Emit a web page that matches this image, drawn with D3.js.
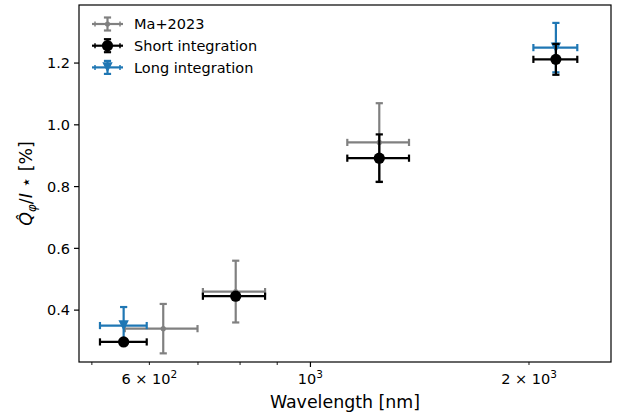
<!DOCTYPE html>
<html>
<head>
<meta charset="utf-8">
<script src="https://cdn.jsdelivr.net/npm/d3@7"></script>
<style>
  body { margin: 0; background: #fff; }
  text { font-family: "DejaVu Sans", sans-serif; fill: #000; }
</style>
</head>
<body>
<div id="chart"></div>
<script>
// Ma+2023
var maWave = [627, 789, 1244];
var maLow = [555, 711, 1124];
var maHigh = [699, 866, 1367];
var maVal = [0.34, 0.46, 0.943];
var maErr = [0.08, 0.1, 0.127];

// Short integration
var shortWave = [553, 789, 1244, 2178];
var shortLow = [513, 711, 1124, 2028];
var shortHigh = [595, 866, 1367, 2331];
var shortVal = [0.297, 0.445, 0.892, 1.212];
var shortErr = [0.006, 0.005, 0.077, 0.05];

// Long integration
var longWave = [553, 2178];
var longLow = [513, 2028];
var longHigh = [595, 2331];
var longVal = [0.35, 1.25];
var longErr = [0.06, 0.08];

var yTicks = [0.4, 0.6, 0.8, 1.0, 1.2];
var xMinorTicks = [500, 600, 700, 800, 900, 2000];
var xMajorTicks = [1000];
var xTickLabels = [
  { v: 600, base: "6 \u00d7 10", exp: "2" },
  { v: 1000, base: "10", exp: "3" },
  { v: 2000, base: "2 \u00d7 10", exp: "3" }
];

var W = 618, H = 416;
var pL = 79, pR = 611, pT = 5, pB = 362;

var svg = d3.select("#chart").append("svg")
  .attr("width", W).attr("height", H);

var x = d3.scaleLog().domain([480, 2594]).range([pL, pR]);
var y = d3.scaleLinear().domain([0.232, 1.388]).range([pB, pT]);

// axes
var xAxis = svg.append("g").attr("transform", "translate(0," + pB + ")");
xAxis.selectAll("line.minor").data(xMinorTicks).enter().append("line")
  .attr("x1", d => x(d)).attr("x2", d => x(d))
  .attr("y1", 0).attr("y2", 3)
  .attr("stroke", "#000").attr("stroke-width", 0.9);
xAxis.selectAll("line.major").data(xMajorTicks).enter().append("line")
  .attr("x1", d => x(d)).attr("x2", d => x(d))
  .attr("y1", 0).attr("y2", 5)
  .attr("stroke", "#000").attr("stroke-width", 1.2);
var xl = xAxis.selectAll("text.tl").data(xTickLabels).enter().append("text")
  .attr("x", d => x(d.v)).attr("y", 22)
  .attr("text-anchor", "middle")
  .style("font-size", "14.5px");
xl.append("tspan").text(d => d.base);
xl.append("tspan").attr("dy", -6).style("font-size", "10.5px").text(d => d.exp);

var yAxis = svg.append("g");
yAxis.selectAll("line").data(yTicks).enter().append("line")
  .attr("x1", pL - 5).attr("x2", pL)
  .attr("y1", d => y(d)).attr("y2", d => y(d))
  .attr("stroke", "#000").attr("stroke-width", 1.2);
yAxis.selectAll("text").data(yTicks).enter().append("text")
  .attr("x", pL - 9).attr("y", d => y(d))
  .attr("dy", "0.36em")
  .attr("text-anchor", "end")
  .style("font-size", "14.5px")
  .text(d => d.toFixed(1));

// axis labels
svg.append("text")
  .attr("x", (pL + pR) / 2).attr("y", 408)
  .attr("text-anchor", "middle")
  .style("font-size", "17.4px")
  .text("Wavelength [nm]");

var yl = svg.append("text")
  .attr("transform", "translate(32," + ((pT + pB) / 2) + ") rotate(-90)")
  .attr("text-anchor", "middle")
  .style("font-size", "17.4px");
yl.append("tspan").style("font-style", "italic").text("Q\u0302");
yl.append("tspan").attr("dy", 4).style("font-size", "12px").style("font-style", "italic").text("\u03c6");
yl.append("tspan").attr("dy", -4).text("/");
yl.append("tspan").style("font-style", "italic").text("I");
yl.append("tspan").text(" \u22c6 [%]");

// errorbar drawing
function drawSeries(wave, low, high, val, err, color, marker) {
  var grp = svg.append("g");
  wave.forEach(function(w, i) {
    var cx = x(w), cy = y(val[i]);
    var x1 = x(low[i]), x2 = x(high[i]);
    var y1 = y(val[i] - err[i]), y2 = y(val[i] + err[i]);
    grp.append("line").attr("x1", x1).attr("x2", x2).attr("y1", cy).attr("y2", cy)
      .attr("stroke", color).attr("stroke-width", 2.2);
    grp.append("line").attr("x1", cx).attr("x2", cx).attr("y1", y1).attr("y2", y2)
      .attr("stroke", color).attr("stroke-width", 2.2);
    [x1, x2].forEach(function(cxx) {
      grp.append("line").attr("x1", cxx).attr("x2", cxx).attr("y1", cy - 3.6).attr("y2", cy + 3.6)
        .attr("stroke", color).attr("stroke-width", 2.2);
    });
    [y1, y2].forEach(function(cyy) {
      grp.append("line").attr("x1", cx - 3.6).attr("x2", cx + 3.6).attr("y1", cyy).attr("y2", cyy)
        .attr("stroke", color).attr("stroke-width", 2.2);
    });
    drawMarker(grp, cx, cy, color, marker);
  });
}

function drawMarker(grp, cx, cy, color, marker) {
  if (marker == "small") {
    grp.append("circle").attr("cx", cx).attr("cy", cy).attr("r", 2.6).attr("fill", color);
  } else if (marker == "circle") {
    grp.append("circle").attr("cx", cx).attr("cy", cy).attr("r", 5.6).attr("fill", color);
  } else {
    var s = 5.2;
    grp.append("path")
      .attr("d", "M" + (cx - s) + "," + (cy - s) + "L" + (cx + s) + "," + (cy - s) + "L" + cx + "," + (cy + s) + "Z")
      .attr("fill", color);
  }
}

var gray = "#808080", black = "#000000", blue = "#1f77b4";
drawSeries(maWave, maLow, maHigh, maVal, maErr, gray, "small");
drawSeries(longWave, longLow, longHigh, longVal, longErr, blue, "tri");
drawSeries(shortWave, shortLow, shortHigh, shortVal, shortErr, black, "circle");

// frame
svg.append("rect")
  .attr("x", pL).attr("y", pT)
  .attr("width", pR - pL).attr("height", pB - pT)
  .attr("fill", "none").attr("stroke", "#000").attr("stroke-width", 1.2);

// legend
var legendItems = [
  { label: "Ma+2023", color: gray, marker: "small" },
  { label: "Short integration", color: black, marker: "circle" },
  { label: "Long integration", color: blue, marker: "tri" }
];
var lg = svg.append("g");
legendItems.forEach(function(d, i) {
  var ly = 24 + i * 21.7;
  var hx1 = 92, hx2 = 123, hc = (hx1 + hx2) / 2;
  lg.append("line").attr("x1", hx1).attr("x2", hx2).attr("y1", ly).attr("y2", ly)
    .attr("stroke", d.color).attr("stroke-width", 2.2);
  lg.append("line").attr("x1", hc).attr("x2", hc).attr("y1", ly - 6.5).attr("y2", ly + 6.5)
    .attr("stroke", d.color).attr("stroke-width", 2.2);
  [ly - 6.5, ly + 6.5].forEach(function(cyy) {
    lg.append("line").attr("x1", hc - 3.6).attr("x2", hc + 3.6).attr("y1", cyy).attr("y2", cyy)
      .attr("stroke", d.color).attr("stroke-width", 2.2);
  });
  [hx1 + 3, hx2 - 3].forEach(function(cxx) {
    lg.append("line").attr("x1", cxx).attr("x2", cxx).attr("y1", ly - 2.5).attr("y2", ly + 2.5)
      .attr("stroke", d.color).attr("stroke-width", 1.5);
  });
  drawMarker(lg, hc, ly, d.color, d.marker);
  lg.append("text").attr("x", 134).attr("y", ly).attr("dy", "0.36em")
    .style("font-size", "14.5px").text(d.label);
});
</script>
</body>
</html>
